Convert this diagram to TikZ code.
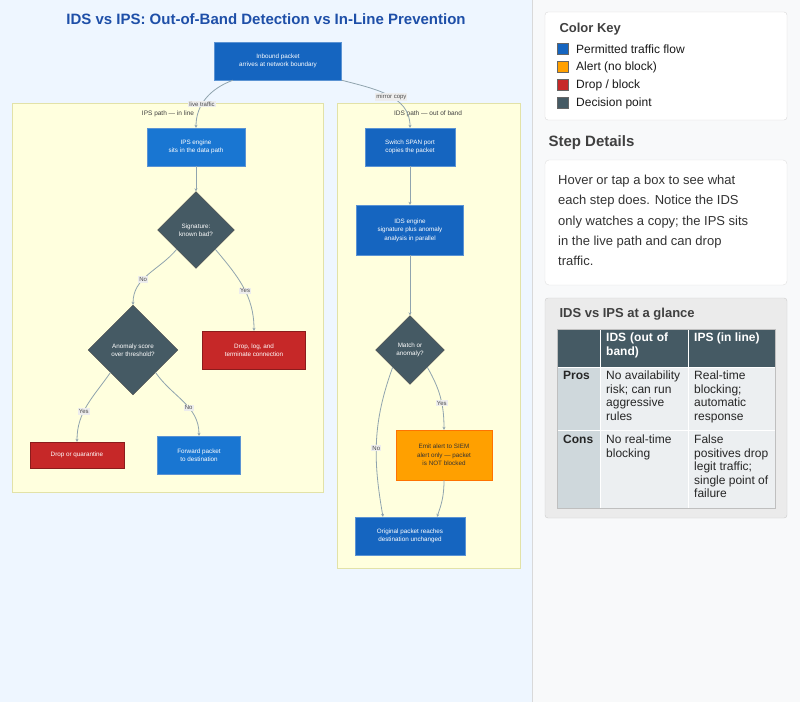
\documentclass[tikz,border=0pt]{standalone}
\usepackage{fontspec}
\setmainfont{Liberation Sans}
\usetikzlibrary{shapes.geometric,arrows.meta,positioning}
\definecolor{pageblue}{HTML}{EEF6FF}
\definecolor{panel}{HTML}{F8F9FA}
\definecolor{flowblue}{HTML}{1565C0}
\definecolor{flowblue2}{HTML}{1976D2}
\definecolor{alertor}{HTML}{FFA000}
\definecolor{dropred}{HTML}{C62828}
\definecolor{decis}{HTML}{455A64}
\definecolor{clfill}{HTML}{FFFFDE}
\definecolor{clline}{HTML}{E2E2A8}
\definecolor{edgec}{HTML}{90A4AE}
\definecolor{titleblue}{HTML}{1E4FA8}
\definecolor{lightc}{HTML}{CFD8DC}
\definecolor{cellc}{HTML}{ECEFF1}
\tikzset{
  box/.style = {rectangle, draw=flowblue!70!white, fill=flowblue, text=white,
    font=\fontsize{6.3}{8.5}\selectfont, align=center, inner sep=0pt},
  redbox/.style = {box, fill=dropred, draw=dropred!70!black},
  orbox/.style = {box, fill=alertor, draw=orange!90!red, text=black!80},
  dec/.style = {diamond, draw=black!70, fill=decis, text=white, inner sep=0pt,
    font=\fontsize{6.3}{8.5}\selectfont, align=center},
  cluster/.style = {draw=clline, fill=clfill, line width=0.8pt},
  flow/.style = {draw=edgec, line width=0.8pt, -{Stealth[length=3pt,width=3pt]}},
  lbl/.style = {fill=black!7, text=black!70, inner sep=1pt,
    font=\fontsize{6}{7}\selectfont},
  swatch/.style = {rectangle, draw=black!60, minimum size=11pt, inner sep=0pt},
  keytxt/.style = {anchor=west, font=\fontsize{12}{14}\selectfont, text=black!90},
  cell/.style = {anchor=north west, align=left, inner sep=0pt,
    font=\fontsize{12}{13.5}\selectfont, text=black!85}
}
\begin{document}
\begin{tikzpicture}[x=1pt,y=-1pt]
        \useasboundingbox (0,0) rectangle (800,702);
        \fill[pageblue] (0,0) rectangle (532,702);
        \fill[panel] (532,0) rectangle (800,702);
        \draw[black!15] (532,0) -- (532,702);

        % title
        \node[font=\bfseries\fontsize{15}{17}\selectfont, text=titleblue] (title) at (266,19)
          {IDS vs IPS: Out-of-Band Detection vs In-Line Prevention};

        % clusters
        \draw[cluster] (12,103) rectangle (323,492);
        \draw[cluster] (337,103) rectangle (520,568);
        \node[font=\fontsize{6.5}{8}\selectfont, text=black!75] (ipsl) at (168,114) {IPS path — in line};
        \node[font=\fontsize{6.5}{8}\selectfont, text=black!75] (idsl) at (428,114) {IDS path — out of band};

        % nodes
        \node[box, minimum width=127pt, minimum height=38pt] (inb) at (278,61)
          {Inbound packet\\arrives at network boundary};
        \node[box, fill=flowblue2, minimum width=98pt, minimum height=38pt] (ips) at (196,147)
          {IPS engine\\sits in the data path};
        \node[dec, minimum width=77pt, minimum height=77pt] (sig) at (196,230)
          {Signature:\\known bad?};
        \node[dec, minimum width=90pt, minimum height=90pt] (anom) at (133,350)
          {Anomaly score\\over threshold?};
        \node[redbox, minimum width=103pt, minimum height=38pt] (drop) at (254,350)
          {Drop, log, and\\terminate connection};
        \node[redbox, minimum width=94pt, minimum height=26pt] (quar) at (77,455)
          {Drop or quarantine};
        \node[box, fill=flowblue2, minimum width=83pt, minimum height=38pt] (fwd) at (199,455)
          {Forward packet\\to destination};

        \node[box, minimum width=90pt, minimum height=38pt] (span) at (410,147)
          {Switch SPAN port\\copies the packet};
        \node[box, minimum width=107pt, minimum height=50pt] (idse) at (410,230)
          {IDS engine\\signature plus anomaly\\analysis in parallel};
        \node[dec, minimum width=69pt, minimum height=69pt] (match) at (410,350)
          {Match or\\anomaly?};
        \node[orbox, minimum width=96pt, minimum height=50pt] (emit) at (444,455)
          {Emit alert to SIEM\\alert only — packet\\is NOT blocked};
        \node[box, minimum width=110pt, minimum height=38pt] (orig) at (410,536)
          {Original packet reaches\\destination unchanged};

        % connectors
        \draw[flow] ([xshift=-45pt]inb.south) to[out=-160,in=90] node[lbl,pos=0.62]{live traffic} (ips.north);
        \draw[flow] (inb.south east) to[out=-15,in=90] node[lbl,pos=0.55]{mirror copy} (span.north);
        \draw[flow] (ips) -- (sig);
        \draw[flow] (sig.south west) to[out=-130,in=90] node[lbl,pos=0.6]{No} (anom.north);
        \draw[flow] (sig.south east) to[out=-50,in=90] node[lbl,pos=0.55]{Yes} (drop.north);
        \draw[flow] (anom.south west) to[out=-125,in=90] node[lbl,pos=0.6]{Yes} (quar.north);
        \draw[flow] (anom.south east) to[out=-55,in=90] node[lbl,pos=0.6]{No} (fwd.north);
        \draw[flow] (span) -- (idse);
        \draw[flow] (idse) -- (match);
        \draw[flow] (match.south west) to[out=-110,in=100] node[lbl,pos=0.55]{No} ([xshift=-27pt]orig.north);
        \draw[flow] (match.south east) to[out=-60,in=90] node[lbl,pos=0.6]{Yes} (emit.north);
        \draw[flow] (emit.south) to[out=-90,in=70] ([xshift=27pt]orig.north);

        % colour key
        \draw[black!15, fill=white, rounded corners=3pt] (545,12) rectangle (787,120);
        \node[anchor=west, font=\bfseries\fontsize{13}{15}\selectfont, text=black!75] (keyt) at (556,29) {Color Key};
        \node[swatch, fill=flowblue] (k1) at (563,49) {};
        \node[keytxt, right=4pt of k1] {Permitted traffic flow};
        \node[swatch, fill=alertor] (k2) at (563,67) {};
        \node[keytxt, right=4pt of k2] {Alert (no block)};
        \node[swatch, fill=dropred] (k3) at (563,85) {};
        \node[keytxt, right=4pt of k3] {Drop / block};
        \node[swatch, fill=decis] (k4) at (563,103) {};
        \node[keytxt, right=4pt of k4] {Decision point};

        % step details
        \node[anchor=west, font=\bfseries\fontsize{15}{17}\selectfont, text=black!75] (stept) at (545,143) {Step Details};
        \draw[black!12, fill=white, rounded corners=4pt] (545,160) rectangle (787,285);
        \node[anchor=north west, align=left, inner sep=0pt, font=\fontsize{13}{20.2}\selectfont, text=black!80] (stepx) at (558,175)
          {Hover or tap a box to see what\\each step does. Notice the IDS\\only watches a copy; the IPS sits\\in the live path and can drop\\traffic.};

        % glance table
        \draw[black!20, fill=black!8, rounded corners=3pt] (545,298) rectangle (787,518);
        \node[anchor=west, font=\bfseries\fontsize{13}{15}\selectfont, text=black!75] (tabt) at (556,314) {IDS vs IPS at a glance};
        \fill[decis] (557,329) rectangle (775,367);
        \fill[lightc] (557,367) rectangle (600,508);
        \fill[cellc] (600,367) rectangle (775,508);
        \draw[white, line width=0.8pt] (600,329) -- (600,508) (688,329) -- (688,508)
          (557,367) -- (775,367) (557,430) -- (775,430);
        \draw[black!25] (557,329) rectangle (775,508);
        \node[cell, font=\bfseries\fontsize{12}{13.5}\selectfont, text=white, text width=80pt] (h1) at (606,333) {IDS (out of\\band)};
        \node[cell, font=\bfseries\fontsize{12}{13.5}\selectfont, text=white] (h2) at (694,333) {IPS (in line)};
        \node[cell, font=\bfseries\fontsize{12}{13.5}\selectfont] (r1) at (563,371) {Pros};
        \node[cell] (c11) at (606,371) {No availability\\risk; can run\\aggressive\\rules};
        \node[cell] (c12) at (694,371) {Real-time\\blocking;\\automatic\\response};
        \node[cell, font=\bfseries\fontsize{12}{13.5}\selectfont] (r2) at (563,435) {Cons};
        \node[cell] (c21) at (606,435) {No real-time\\blocking};
        \node[cell] (c22) at (694,435) {False\\positives drop\\legit traffic;\\single point of\\failure};
\end{tikzpicture}
\end{document}
